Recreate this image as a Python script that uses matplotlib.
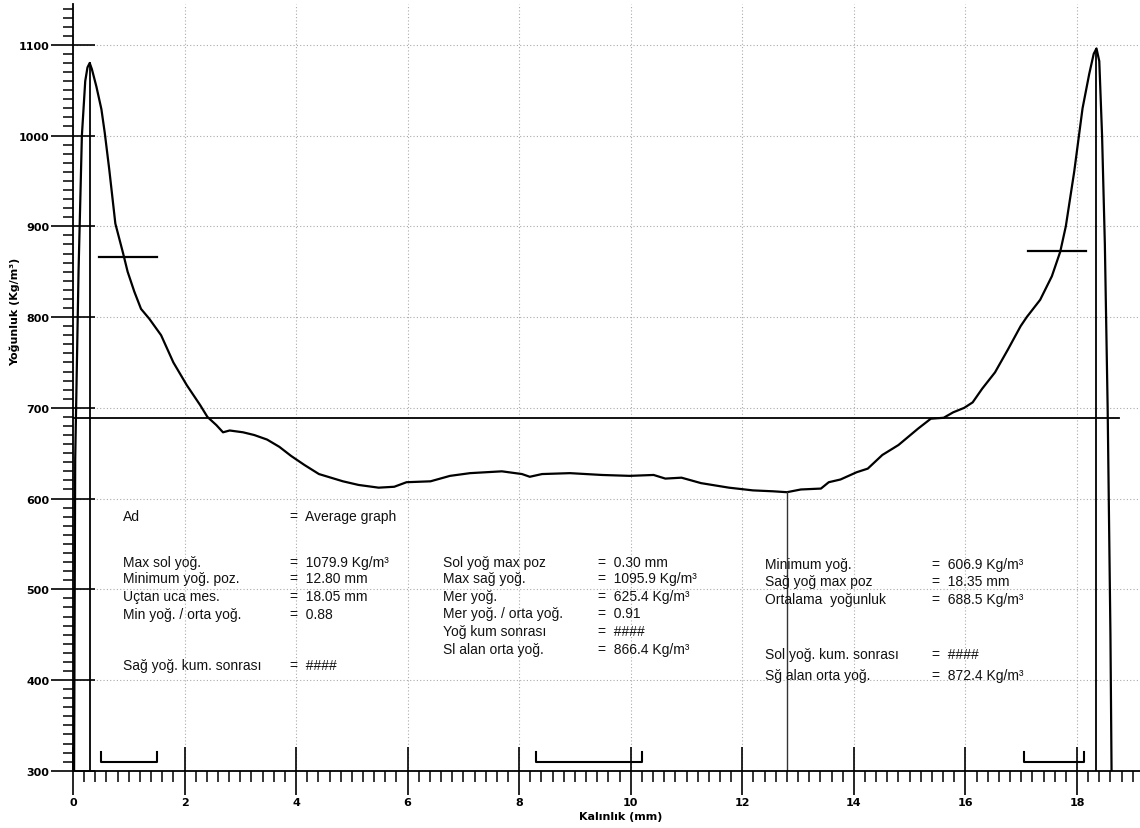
import numpy as np
import matplotlib.pyplot as plt
from matplotlib.ticker import MultipleLocator

# density profile (thickness mm, density kg/m3)
x_mm = [0.02, 0.04, 0.10, 0.16, 0.22, 0.26, 0.30, 0.34, 0.42, 0.51, 0.57, 0.65, 0.76, 0.90, 0.98,
        1.10, 1.22, 1.37, 1.58, 1.80, 2.04, 2.28, 2.41, 2.57, 2.69, 2.81, 3.05, 3.25, 3.48, 3.70,
        3.91, 4.15, 4.41, 4.84, 5.12, 5.48, 5.76, 5.98, 6.41, 6.76, 7.12, 7.69, 8.05, 8.19, 8.41,
        8.91, 9.48, 9.98, 10.41, 10.62, 10.91, 11.26, 11.76, 12.19, 12.55, 12.80, 13.05, 13.41,
        13.55, 13.76, 14.05, 14.25, 14.51, 14.80, 15.15, 15.38, 15.61, 15.78, 15.98, 16.13, 16.30,
        16.53, 16.76, 16.99, 17.10, 17.34, 17.55, 17.70, 17.80, 17.95, 18.10, 18.22, 18.30, 18.35,
        18.40, 18.45, 18.50, 18.55, 18.60, 18.62]
density = [300, 643, 850, 1000, 1060, 1075, 1080, 1073, 1054, 1029, 1003, 963, 903, 870, 850,
           828, 809, 798, 780, 750, 725, 703, 690, 681, 673, 675, 673, 670, 665, 657,
           647, 637, 627, 619, 615, 612, 613, 618, 619, 625, 628, 630, 627, 624, 627,
           628, 626, 625, 626, 622, 623, 617, 612, 609, 608, 607, 610, 611,
           618, 621, 629, 633, 648, 659, 677, 688, 689, 695, 700, 706, 721,
           739, 764, 790, 800, 819, 845, 872, 900, 960, 1030, 1068, 1090, 1096,
           1082, 1000, 880, 700, 450, 300]

sol_max_poz, sol_max = 0.30, 1079.9
sag_max_poz, sag_max = 18.35, 1095.9
min_poz, min_yog = 12.80, 606.9
ortalama = 688.5
sol_alan, sag_alan = 866.4, 872.4
sol_alan_x = [0.47, 1.50]
sag_alan_x = [17.12, 18.16]
ort_x = [0.0, 18.75]
brackets = [(0.50, 1.50), (8.30, 10.20), (17.05, 18.12)]

col1_labels = ['Ad', 'Max sol yoğ.', 'Minimum yoğ. poz.', 'Uçtan uca mes.', 'Min yoğ. / orta yoğ.', 'Sağ yoğ. kum. sonrası']
col1_values = ['Average graph', '1079.9 Kg/m³', '12.80 mm', '18.05 mm', '0.88', '####']
col1_y = [581, 530, 512, 493, 473, 417]
col2_labels = ['Sol yoğ max poz', 'Max sağ yoğ.', 'Mer yoğ.', 'Mer yoğ. / orta yoğ.', 'Yoğ kum sonrası', 'Sl alan orta yoğ.']
col2_values = ['0.30 mm', '1095.9 Kg/m³', '625.4 Kg/m³', '0.91', '####', '866.4 Kg/m³']
col2_y = [530, 512, 493, 474, 454, 434]
col3_labels = ['Minimum yoğ.', 'Sağ yoğ max poz', 'Ortalama  yoğunluk', 'Sol yoğ. kum. sonrası', 'Sğ alan orta yoğ.']
col3_values = ['606.9 Kg/m³', '18.35 mm', '688.5 Kg/m³', '####', '872.4 Kg/m³']
col3_y = [528, 509, 489, 429, 406]

fig = plt.figure(figsize=(11.4, 8.29), dpi=100)
ax = fig.add_axes([0.064, 0.069, 0.936, 0.925])
ax.set_xlim(0, 19.13)
ax.set_ylim(300, 1145)

ax.plot(x_mm, density, color='black', lw=1.6, solid_joinstyle='round')
ax.plot([sol_max_poz, sol_max_poz], [300, sol_max], color='black', lw=1.3)
ax.plot([sag_max_poz, sag_max_poz], [300, sag_max], color='black', lw=1.3)
ax.plot([min_poz, min_poz], [300, min_yog], color='#333333', lw=1.0)
ax.plot(ort_x, [ortalama, ortalama], color='black', lw=1.3)
ax.plot(sol_alan_x, [sol_alan, sol_alan], color='black', lw=1.6)
ax.plot(sag_alan_x, [sag_alan, sag_alan], color='black', lw=1.6)
for x0, x1 in brackets:
    ax.plot([x0, x0, x1, x1], [321, 310, 310, 321], color='black', lw=1.5)

ax.spines['top'].set_visible(False)
ax.spines['right'].set_visible(False)
ax.spines['left'].set_linewidth(1.3)
ax.spines['bottom'].set_linewidth(1.3)

ax.xaxis.set_major_locator(MultipleLocator(2))
ax.xaxis.set_minor_locator(MultipleLocator(0.2))
ax.yaxis.set_major_locator(MultipleLocator(100))
ax.yaxis.set_minor_locator(MultipleLocator(10))
ax.tick_params(axis='x', which='major', direction='inout', length=34, width=1.2, pad=2)
ax.tick_params(axis='x', which='minor', direction='out', length=8, width=1.1)
ax.tick_params(axis='y', which='major', direction='inout', length=32, width=1.2, pad=1)
ax.tick_params(axis='y', which='minor', direction='out', length=7, width=1.1)
for lab in ax.get_xticklabels() + ax.get_yticklabels():
    lab.set_fontweight('bold')
    lab.set_fontsize(8)
ax.grid(True, which='major', linestyle=(0, (1, 2)), color='#aaaaaa', lw=0.8)

ax.set_xlabel('Kalınlık (mm)', fontsize=8, fontweight='bold')
ax.xaxis.set_label_coords(0.513, -0.053)
ax.set_ylabel('Yoğunluk (Kg/m³)', fontsize=8, fontweight='bold')
ax.yaxis.set_label_coords(-0.05, 0.6)

tk = dict(fontsize=10, family='Liberation Sans', va='center', color='#111111')
for lab, val, y in zip(col1_labels, col1_values, col1_y):
    ax.text(0.9, y, lab, **tk)
    ax.text(3.9, y, '=  ' + val, **tk)
for lab, val, y in zip(col2_labels, col2_values, col2_y):
    ax.text(6.63, y, lab, **tk)
    ax.text(9.42, y, '=  ' + val, **tk)
for lab, val, y in zip(col3_labels, col3_values, col3_y):
    ax.text(12.4, y, lab, **tk)
    ax.text(15.4, y, '=  ' + val, **tk)

fig.savefig('out.png', dpi=100)
